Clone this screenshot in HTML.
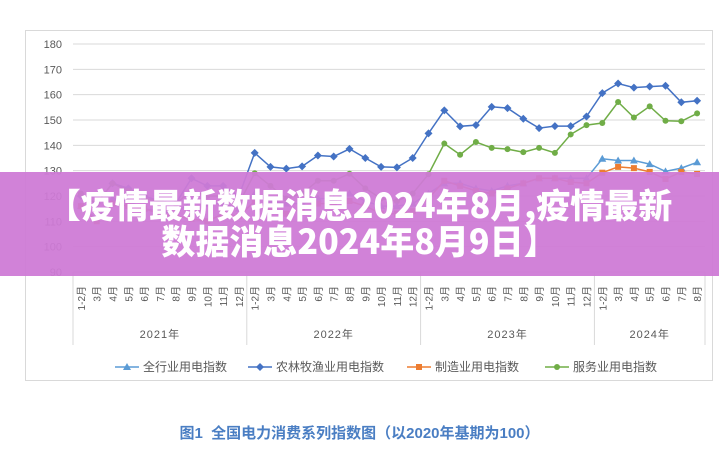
<!DOCTYPE html>
<html><head><meta charset="utf-8">
<style>
body{margin:0;width:719px;height:450px;background:#fff;overflow:hidden;font-family:"Liberation Sans","Noto Sans CJK SC",sans-serif;position:relative}
#banner{position:absolute;left:0;top:172px;width:719px;height:104px;background:rgba(206,122,214,0.94);color:#fff;font-weight:900;font-size:34px;line-height:36px;text-align:center;padding-top:14px;box-sizing:border-box;font-family:"Noto Sans CJK SC","Liberation Sans",sans-serif;white-space:nowrap}
#caption{position:absolute;left:0;width:719px;top:422px;text-align:center;color:#4a7ec3;font-weight:bold;font-size:15px}
</style></head><body>
<svg id="chart" width="719" height="450" style="position:absolute;left:0;top:0"></svg>
<div id="banner">【疫情最新数据消息2024年8月,疫情最新<br>数据消息2024年8月9日】</div>
<div id="caption">图1&nbsp; 全国电力消费系列指数图（以2020年基期为100）</div>
<script>
const months=["1-2月","3月","4月","5月","6月","7月","8月","9月","10月","11月","12月"];
const years=["2021年","2022年","2023年","2024年"];
const yearCounts=[11,11,11,7];
const yTicks=[90,100,110,120,130,140,150,160,170,180];
const seriesNames=["全行业用电指数","农林牧渔业用电指数","制造业用电指数","服务业用电指数"];
const seriesColors=["#5b9bd5","#4472c4","#ed7d31","#70ad47"];
const total=[116,111,119,118,115,114,113,118,117,117,115, 121,118,117,117,119,119,121,118,116,116,117, 121,125,125,123,122,124,125,127,127,127,127, 134.7,134,134,132.6,129.7,131,133.3];
const agri=[120,117,125,123,120,118,117,127,124,124,120, 137,131.5,130.8,131.7,136,135.6,138.6,135,131.5,131.3,135, 144.7,153.8,147.5,148,155.2,154.7,150.5,146.8,147.6,147.6,151.4, 160.6,164.4,162.8,163.2,163.5,157,157.6];
const manu=[116,110,117,116,115,113,112,111,110,113,112, 118,114,113,115,117,117,118,116,113,113,114, 119,126,124,122,121,123,125,127,127,125.5,125, 129.2,131.5,131,129.5,126.7,129.5,128.7];
const serv=[121,117,125,122,119,118,117,122,120,120,117, 129,124,119,121,126,126,128.8,123,119,118,121, 128.6,140.7,136.3,141.3,139,138.5,137.3,139,137,144.3,148, 148.8,157.1,151,155.4,149.7,149.5,152.6];
const series=[total,agri,manu,serv];
const markers=["tri","dia","sq","circ"];

const NS="http://www.w3.org/2000/svg";
const svg=document.getElementById('chart');
const L=73,R=705,T=44,B=272,yMin=90,yMax=180;
const N=40,cw=(R-L)/N;
const X=i=>L+cw*(i+0.5);
const Y=v=>B-(v-yMin)/(yMax-yMin)*(B-T);
function el(t,a,p){const e=document.createElementNS(NS,t);for(const k in a)e.setAttribute(k,a[k]);(p||svg).appendChild(e);return e;}

const frame=el('rect',{x:25.5,y:30.5,width:687,height:350,fill:'#fff',stroke:'#d9d9d9'});



yTicks.forEach(v=>{
  const g=el('line',{x1:L,x2:R,y1:Y(v),y2:Y(v),stroke:'#d9d9d9','stroke-width':1});
  
  
  const t=el('text',{x:62,y:Y(v)+4,'text-anchor':'end','font-size':11,fill:'#595959'});
  t.textContent=v;
  
  
});

let idx=0;
years.forEach((yr,yi)=>{
  const start=idx;
  for(let m=0;m<yearCounts[yi];m++){
    const t=el('text',{transform:`translate(${X(idx)+4},286) rotate(-90)`,'text-anchor':'end','font-size':10,fill:'#595959'});
    t.textContent=months[m];
    
    
    idx++;
  }
  const sx=L+cw*start;
  const s=el('line',{x1:sx,x2:sx,y1:B,y2:345,stroke:'#d9d9d9'});
  
  
  const yl=el('text',{x:(sx+L+cw*idx)/2,y:338,'text-anchor':'middle','font-size':11,fill:'#595959','letter-spacing':1});
  yl.textContent=yr;
  
  
});
const se=el('line',{x1:R,x2:R,y1:B,y2:345,stroke:'#d9d9d9'});



function marker(type,x,y,c,g){
  let m;
  if(type==='tri')m=el('path',{d:`M${x},${y-4}L${x+4},${y+3}L${x-4},${y+3}Z`,fill:c},g);
  else if(type==='dia')m=el('path',{d:`M${x},${y-4}L${x+4},${y}L${x},${y+4}L${x-4},${y}Z`,fill:c},g);
  else if(type==='sq')m=el('rect',{x:x-3,y:y-3,width:6,height:6,fill:c},g);
  else m=el('circle',{cx:x,cy:y,r:3,fill:c},g);
  return m;
}
[1,3,0,2].forEach(si=>{
  const g=el('g',{});
  
  
  const d=series[si].map((v,i)=>(i?'L':'M')+X(i).toFixed(1)+','+Y(v).toFixed(1)).join('');
  el('path',{d,fill:'none',stroke:seriesColors[si],'stroke-width':1.5},g);
  series[si].forEach((v,i)=>{
    const m=marker(markers[si],X(i),Y(v),seriesColors[si],g);
    
    
  });
});

const legX=[115,248,407,545];
seriesNames.forEach((n,i)=>{
  const g=el('g',{});
  
  
  const x=legX[i],y=367;
  el('line',{x1:x,x2:x+24,y1:y,y2:y,stroke:seriesColors[i],'stroke-width':1.5},g);
  marker(markers[i],x+12,y,seriesColors[i],g);
  const t=el('text',{x:x+28,y:y+4,'font-size':12,fill:'#595959'},g);
  t.textContent=n;
});
</script>
</body></html>
